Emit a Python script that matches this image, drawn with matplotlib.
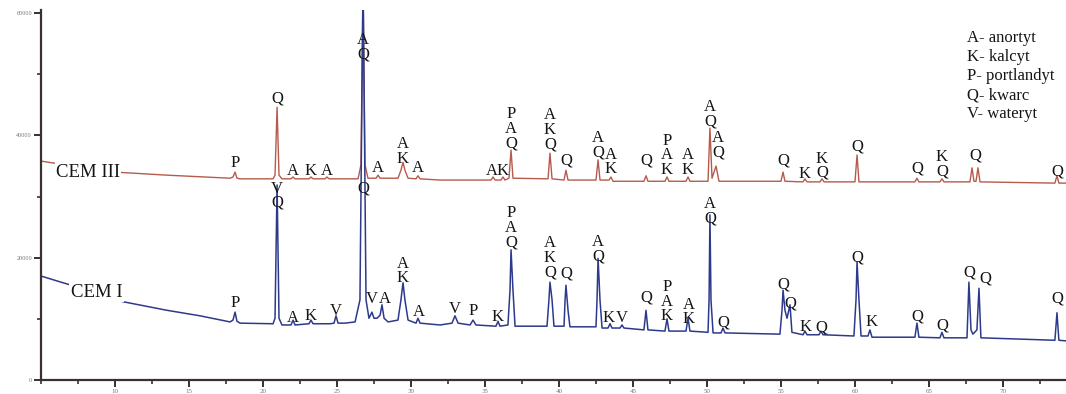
import matplotlib
matplotlib.use("Agg")
import matplotlib.pyplot as plt
from matplotlib.ticker import MultipleLocator

# XRD patterns (2theta in deg, counts)
cem3_x = [5.00, 7.64, 10.00, 13.51, 17.77, 17.97, 18.11, 18.24, 18.45, 20.68, 20.81, 20.95, 21.08, 21.28,
          21.89, 22.03, 22.16, 23.11, 23.24, 23.38, 24.19, 24.32, 24.46, 26.42, 26.62, 26.76, 26.89, 27.09,
          27.64, 27.77, 27.91, 29.12, 29.32, 29.46, 29.59, 29.80, 30.34, 30.47, 30.61, 31.96, 33.99, 35.41,
          35.54, 35.68, 36.08, 36.22, 36.35, 36.62, 36.76, 36.89, 39.26, 39.39, 39.53, 40.34, 40.47, 40.61,
          42.50, 42.64, 42.77, 43.38, 43.51, 43.65, 45.74, 45.88, 46.01, 47.16, 47.30, 47.43, 48.58, 48.72,
          48.85, 50.07, 50.20, 50.34, 50.61, 50.81, 55.00, 55.14, 55.27, 56.49, 56.62, 56.76, 57.64, 57.77,
          57.91, 60.00, 60.14, 60.27, 64.05, 64.19, 64.32, 65.74, 65.88, 66.01, 67.77, 67.91, 68.04, 68.18,
          68.31, 68.45, 73.51, 73.65, 73.78, 74.26]
cem3_y = [35800, 34800, 34000, 33500, 33000, 33200, 34000, 33000, 32900, 32900, 33500, 44600, 33500, 32900,
          32900, 33200, 32900, 32900, 33200, 32900, 32900, 33200, 32900, 32900, 35200, 65400, 35200, 33000,
          33000, 33500, 33000, 33000, 34300, 35600, 34300, 33000, 32900, 33400, 32900, 32700, 32700, 32700,
          33200, 32700, 32700, 33200, 32700, 33000, 37600, 33000, 32900, 37100, 32900, 32700, 34300, 32700,
          32700, 36000, 32700, 32700, 33200, 32500, 32500, 33400, 32500, 32500, 33200, 32500, 32500, 33200,
          32500, 32500, 41200, 33000, 35000, 32500, 32500, 34000, 32500, 32400, 32900, 32400, 32400, 32900,
          32400, 32400, 36800, 32400, 32400, 33000, 32400, 32400, 32900, 32400, 32400, 34700, 32500, 32500,
          34700, 32400, 32200, 33400, 32200, 32200]

cem1_x = [5.00, 6.49, 8.31, 10.34, 13.51, 15.74, 17.77, 17.97, 18.11, 18.24, 18.45, 20.68, 20.81, 20.95,
          21.08, 21.28, 21.89, 22.03, 22.16, 23.11, 23.24, 23.38, 24.53, 24.80, 24.93, 25.07, 25.54, 26.22,
          26.55, 26.76, 26.96, 27.16, 27.36, 27.50, 27.70, 27.91, 28.04, 28.18, 28.45, 29.12, 29.32, 29.46,
          29.59, 29.80, 30.34, 30.47, 30.61, 31.96, 32.77, 32.97, 33.18, 33.99, 34.19, 34.39, 35.74, 35.88,
          36.01, 36.55, 36.69, 36.76, 36.89, 37.03, 39.19, 39.32, 39.39, 39.53, 39.66, 40.34, 40.41, 40.47,
          40.61, 40.74, 42.50, 42.57, 42.64, 42.77, 42.91, 43.31, 43.45, 43.58, 44.12, 44.26, 44.39, 45.74,
          45.88, 46.01, 47.16, 47.30, 47.43, 48.58, 48.72, 48.85, 50.07, 50.14, 50.20, 50.27, 50.41, 50.95,
          51.08, 51.22, 54.93, 55.07, 55.14, 55.27, 55.41, 55.61, 55.74, 56.49, 56.62, 56.76, 57.57, 57.70,
          57.84, 59.93, 60.07, 60.14, 60.27, 60.41, 60.88, 61.01, 61.15, 64.05, 64.19, 64.32, 65.74, 65.88,
          66.01, 67.57, 67.70, 67.84, 67.97, 68.24, 68.38, 68.51, 73.51, 73.65, 73.78, 74.26]
cem1_y = [17000, 15900, 14600, 12900, 11400, 10500, 9500, 9800, 11100, 9600, 9300, 9200, 10100, 31900,
          10100, 9000, 9000, 9800, 9000, 9200, 9800, 9200, 9200, 9300, 10500, 9300, 9300, 9500,
          13100, 65400, 13100, 10100, 11100, 10100, 10100, 10600, 12300, 10100, 9500, 9800, 13100, 15900,
          13100, 9800, 9300, 10100, 9300, 9000, 9300, 10500, 9300, 9000, 9800, 9000, 8800, 9600,
          8800, 9000, 14700, 21300, 14700, 8800, 8800, 13100, 16000, 13100, 8800, 8800, 13100, 15500,
          11400, 8700, 8700, 13100, 19900, 13100, 8500, 8500, 9200, 8500, 8500, 9000, 8500, 8200,
          11400, 8200, 8000, 10000, 8000, 8000, 10100, 8000, 7800, 13100, 27000, 13100, 7700, 7700,
          8500, 7700, 7500, 11400, 14700, 11400, 10100, 12300, 7800, 7400, 8000, 7400, 7400, 8000,
          7400, 7200, 13100, 19300, 13100, 7200, 7200, 8200, 7000, 7000, 9300, 7000, 6900, 7800,
          6900, 6900, 16000, 8200, 7500, 8200, 15000, 6900, 6500, 11000, 6500, 6400]

# phase labels: (2theta, counts at bottom letter, letters from top to bottom)
cem3_labels = [(18.11, 34800, "P"), (20.95, 45300, "Q"), (22.03, 33500, "A"), (23.24, 33500, "K"),
               (24.32, 33500, "A"), (26.76, 52600, "AQ"), (27.77, 34000, "A"), (29.46, 35500, "AK"),
               (30.47, 34000, "A"), (36.76, 38100, "PAQ"),
               (39.39, 37900, "AKQ"), (40.47, 35200, "Q"), (42.64, 36600, "AQ"), (43.51, 33800, "AK"),
               (45.88, 35200, "Q"), (47.30, 33700, "PAK"), (48.72, 33700, "AK"), (50.20, 41700, "AQ"),
               (50.74, 36600, "AQ"), (55.14, 35200, "Q"), (56.62, 33000, "K"), (57.77, 33200, "KQ"),
               (60.14, 37600, "Q"), (64.19, 34000, "Q"), (65.88, 33500, "KQ"), (68.11, 36000, "Q"),
               (73.65, 33500, "Q")]
cem3_inline = [(35.85, 33500, "AK")]
cem1_labels = [(18.11, 11900, "P"), (20.95, 28300, "VQ"), (22.03, 9500, "A"), (23.24, 9800, "K"),
               (24.93, 10600, "V"), (26.76, 30700, "Q"), (27.36, 12600, "V"), (28.24, 12600, "A"),
               (29.46, 16000, "AK"), (30.54, 10500, "A"), (32.97, 11000, "V"), (34.19, 10600, "P"),
               (35.88, 9600, "K"), (36.76, 21900, "PAQ"), (39.39, 17000, "AKQ"), (40.47, 16800, "Q"),
               (42.64, 19600, "AQ"), (43.38, 9500, "K"), (44.26, 9500, "V"), (45.88, 12800, "Q"),
               (47.30, 9800, "PAK"), (48.79, 9300, "AK"), (50.20, 25700, "AQ"), (51.08, 8800, "Q"),
               (55.14, 15000, "Q"), (55.61, 11900, "Q"), (56.69, 8000, "K"), (57.70, 8000, "Q"),
               (60.14, 19300, "Q"), (61.15, 8800, "K"), (64.19, 9800, "Q"), (65.88, 8300, "Q"),
               (67.70, 17000, "Q"), (68.78, 15900, "Q"), (73.65, 12600, "Q")]

legend_lines = ["A- anortyt", "K- kalcyt", "P- portlandyt", "Q- kwarc", "V- wateryt"]

plt.rcParams['font.family'] = ['Liberation Serif', 'DejaVu Serif']

fig = plt.figure(figsize=(10.66, 3.94), dpi=100)
ax = fig.add_axes([0.0385, 0.0355, 0.9615, 0.939])

ax.plot(cem3_x, cem3_y, color='#b65a4c', lw=1.0)
ax.plot(cem1_x, cem1_y, color='#2d3a8c', lw=1.1)

ax.set_xlim(5, 74.26)
ax.set_ylim(0, 60500)

# stacked letters, one per line
for labels in (cem3_labels, cem1_labels):
    for x, y, s in labels:
        for k, ch in enumerate(reversed(s)):
            ax.annotate(ch, (x, y), xytext=(0, k * 10.4), textcoords='offset points',
                        ha='center', va='baseline', fontsize=12, color='#151515')
for x, y, s in cem3_inline:
    ax.text(x, y, s, ha='center', va='baseline', fontsize=12, color='#151515')

box = dict(facecolor='white', edgecolor='none', pad=1)
ax.text(6.0, 34000, "CEM III", fontsize=13.5, va='center', ha='left', color='#151515', bbox=box)
ax.text(7.0, 14300, "CEM I", fontsize=13.5, va='center', ha='left', color='#151515', bbox=box)

ax.text(0.903, 0.945, "\n".join(legend_lines), transform=ax.transAxes, fontsize=12,
        va='top', ha='left', linespacing=1.25, color='#151515')

ax.spines['top'].set_visible(False)
ax.spines['right'].set_visible(False)
for sp in ('left', 'bottom'):
    ax.spines[sp].set_linewidth(1.6)
    ax.spines[sp].set_color('#3a3030')

ax.xaxis.set_minor_locator(MultipleLocator(2.5))
ax.yaxis.set_major_locator(MultipleLocator(20000))
ax.yaxis.set_minor_locator(MultipleLocator(10000))
ax.set_xticks(range(10, 75, 5))
ax.tick_params(which='major', length=5, width=1.4, color='#3a3030', labelsize=5, labelcolor='#777777', pad=1.5)
ax.tick_params(which='minor', length=3, width=1.2, color='#3a3030')
ax.tick_params(axis='y', labelsize=4.5)

fig.savefig("out.png", dpi=100)
